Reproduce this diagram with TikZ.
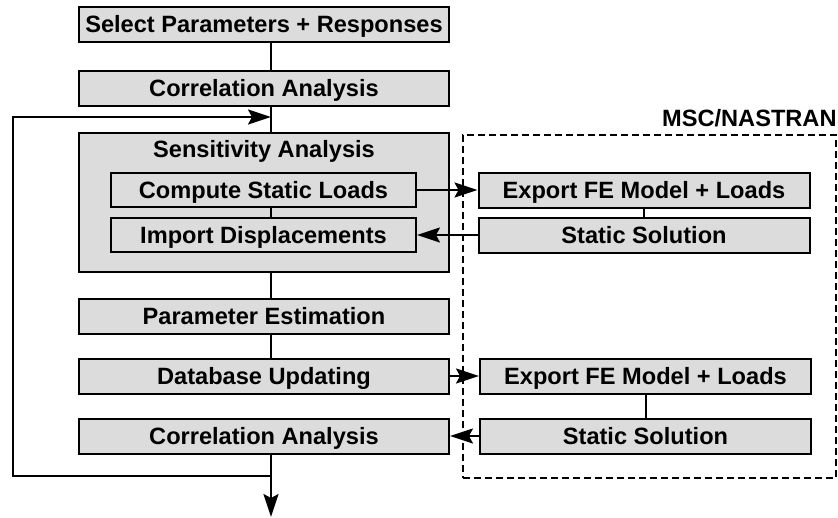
\documentclass[tikz,border=0pt]{standalone}
\usepackage[HTML]{xcolor}
\usepackage{fontspec}
\setmainfont{Liberation Sans}
\usepackage{tikz}
\usetikzlibrary{positioning, arrows, arrows.meta}
\definecolor{boxgray}{HTML}{DCDCDC}
\newcommand{\boxfont}{\bfseries\fontsize{23.6}{26}\selectfont}

\begin{document}
\begin{tikzpicture}[x=1pt,y=-1pt,
  txt/.style={font=\boxfont,inner sep=0pt,text height=16.9pt,text depth=0pt},
  box/.style={txt,draw,line width=2pt,fill=boxgray,minimum height=35pt},
  wide/.style={box,minimum width=370pt},
  subbox/.style={box,minimum width=305pt,minimum height=34pt},
  nas/.style={box,minimum width=331pt},
  link/.style={line width=2pt},
  flow/.style={line width=2pt,-{Stealth[length=23pt,width=15pt,inset=4pt]}}]
\useasboundingbox (0,0) rectangle (838,517);

% MSC/NASTRAN frame
\node[draw,line width=1.5pt,dash pattern=on 7pt off 4pt,minimum width=373pt,minimum height=343pt,inner sep=0pt] (msc) at (649.5,306.5) {};
\node[anchor=base east,inner sep=0pt,font=\boxfont] (msclbl) at ([yshift=8pt]msc.north east) {MSC/NASTRAN};

% main column
\node[wide] (select) at (264,24.5) {Select Parameters + Responses};
\node[wide] (corrA) at (264,88) {Correlation Analysis};
\node[wide,minimum height=139pt] (sens) at (264,202.5) {};
\node[txt] (senslbl) at (264,149) {Sensitivity Analysis};
\node[subbox] (loads) at (263.5,190) {Compute Static Loads};
\node[subbox] (disp) at (263.5,235) {Import Displacements};
\node[wide] (estim) at (264,316.5) {Parameter Estimation};
\node[wide] (dbase) at (264,376) {Database Updating};
\node[wide] (corrB) at (264,436) {Correlation Analysis};

% solver column
\node[nas] (expA) at (644,190) {Export FE Model + Loads};
\node[nas] (solA) at (644,235) {Static Solution};
\node[nas] (expB) at (645.5,376) {Export FE Model + Loads};
\node[nas] (solB) at (645.5,436) {Static Solution};

% connectors
\coordinate (spine) at (271,0);
\coordinate (loopL) at (13,0);
\coordinate (loopT) at (271,117);
\coordinate (loopB) at (271,476);
\coordinate (outEnd) at (271,517);
\draw[link] (select.south -| spine) -- (corrA.north -| spine);
\draw[link] (corrA.south -| spine) -- (sens.north -| spine);
\draw[link] (loads.south -| spine) -- (disp.north -| spine);
\draw[link] (sens.south -| spine) -- (estim.north -| spine);
\draw[link] (estim.south -| spine) -- (dbase.north -| spine);
\draw[link] (expA) -- (solA);
\draw[link] (expB) -- (solB);

% data exchange
\draw[flow] (loads.east) -- (expA.west);
\draw[flow] (solA.west) -- (disp.east);
\draw[flow] (dbase.east) -- (expB.west);
\draw[flow] (solB.west) -- (corrB.east);

% iteration loop
\draw[flow] (corrB.south -| spine) -- (outEnd);
\draw[flow] (loopB) -- (loopB -| loopL) -- (loopT -| loopL) -- (loopT);

\end{tikzpicture}
\end{document}
